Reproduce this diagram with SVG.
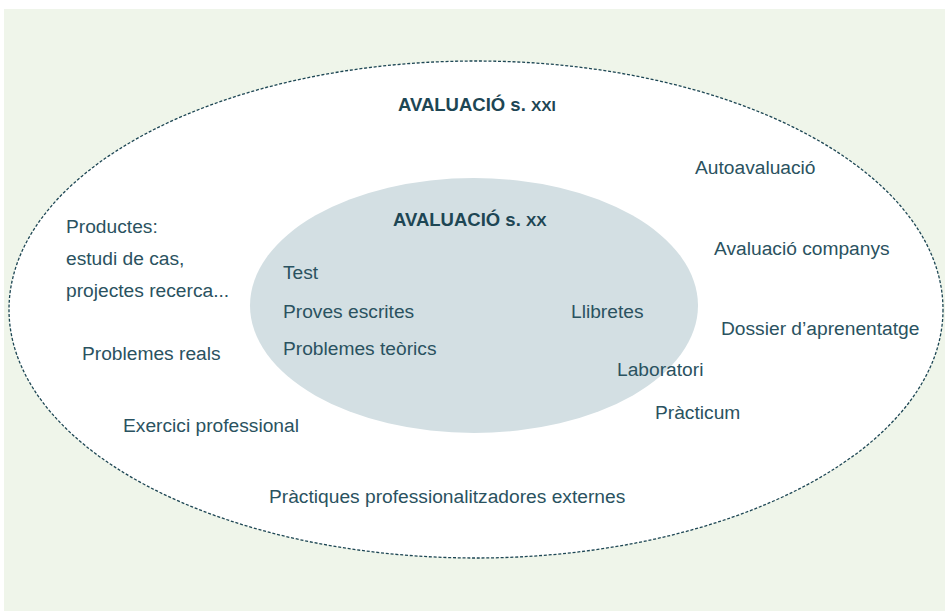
<svg xmlns="http://www.w3.org/2000/svg" width="945" height="611" viewBox="0 0 945 611">
<style>
.t{font-family:"Liberation Sans",Arial,sans-serif;font-size:19.2px;fill:#2a5260}
.h{font-family:"Liberation Sans",Arial,sans-serif;font-size:18.5px;font-weight:bold;fill:#1d4654}
.sc{font-size:15.5px}
</style>
<rect x="0" y="0" width="945" height="611" fill="#ffffff"/>
<rect x="4" y="9" width="941" height="602" fill="#eff5ea"/>
<g id="outer">
<ellipse cx="476" cy="309.5" rx="467" ry="248.5" fill="#ffffff" stroke="#1d4654" stroke-width="1.3" stroke-dasharray="3 1.8"/>
<text class="h" x="398" y="111">AVALUACIÓ s. <tspan class="sc">XXI</tspan></text>
</g>
<g id="inner">
<ellipse cx="474" cy="305.5" rx="224" ry="127.5" fill="#d3dfe3"/>
<text class="h" x="393" y="226">AVALUACIÓ s. <tspan class="sc">XX</tspan></text>
</g>
<g id="inner-items">
<text class="t" x="283" y="279">Test</text>
<text class="t" x="283" y="318">Proves escrites</text>
<text class="t" x="283" y="355">Problemes teòrics</text>
<text class="t" x="571" y="318">Llibretes</text>
</g>
<g id="outer-items">
<text class="t" x="617" y="376">Laboratori</text>
<text class="t" x="655" y="419">Pràcticum</text>
<text class="t" x="695" y="174">Autoavaluació</text>
<text class="t" x="714" y="255">Avaluació companys</text>
<text class="t" x="721" y="335">Dossier d’aprenentatge</text>
<text class="t" x="66" y="233">Productes:</text>
<text class="t" x="66" y="265">estudi de cas,</text>
<text class="t" x="66" y="297">projectes recerca...</text>
<text class="t" x="82" y="360">Problemes reals</text>
<text class="t" x="123" y="432">Exercici professional</text>
<text class="t" x="269" y="503">Pràctiques professionalitzadores externes</text>
</g>
</svg>
